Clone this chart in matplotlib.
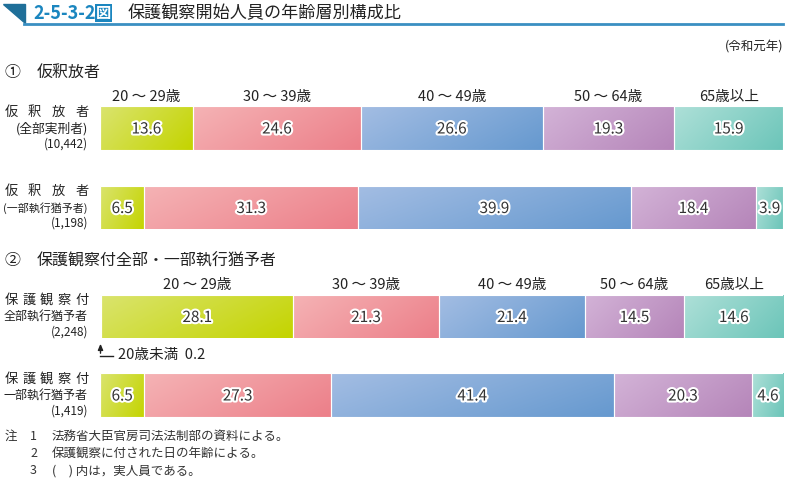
import numpy as np
from matplotlib import pyplot as plt
from matplotlib.patches import Polygon
import matplotlib.patheffects as pe
from matplotlib.colors import to_rgb

plt.rcParams['font.family'] = ['Noto Sans CJK JP', 'DejaVu Sans']

# data
age_groups = ['20歳未満', '20 ～ 29歳', '30 ～ 39歳', '40 ～ 49歳', '50 ～ 64歳', '65歳以上']
row_names = [['仮釈放者', '(全部実刑者)', '(10,442)'],
             ['仮釈放者', '(一部執行猶予者)', '(1,198)'],
             ['保護観察付', '全部執行猶予者', '(2,248)'],
             ['保護観察付', '一部執行猶予者', '(1,419)']]
under20 = [0.0, 0.0, 0.2, 0.0]
age20s = [13.6, 6.5, 28.1, 6.5]
age30s = [24.6, 31.3, 21.3, 27.3]
age40s = [26.6, 39.9, 21.4, 41.4]
age50s = [19.3, 18.4, 14.5, 20.3]
age65 = [15.9, 3.9, 14.6, 4.6]
series = [under20, age20s, age30s, age40s, age50s, age65]

# layout (pixels from top of 789x479 figure)
row_y = [128, 207.5, 316.5, 395]
bar_h = 44
colors = [('#f2f2f2', '#e6e6e6'),
          ('#dae46e', '#c4d400'),
          ('#f5b3b5', '#ec7f89'),
          ('#a3bde3', '#6699cf'),
          ('#d3b3d7', '#b585b9'),
          ('#aee0d8', '#6cc5b9')]

W, H = 789, 479
fig = plt.figure(figsize=(W / 100, H / 100), dpi=100)

# full-figure axes for text in pixel coords
tx = fig.add_axes([0, 0, 1, 1])
tx.set_xlim(0, W)
tx.set_ylim(H, 0)
tx.axis('off')

# bars axes
ax = fig.add_axes([100 / W, 0, 683 / W, 1])
ax.set_xlim(0, 100)
ax.set_ylim(H, 0)
ax.axis('off')

def gradient(c1, c2):
    a = np.array(to_rgb(c1))
    b = np.array(to_rgb(c2))
    yy, xx = np.mgrid[0:1:30j, 0:1:60j]
    t = (xx * 0.7 + yy * 0.3)[..., None]
    return a * (1 - t) + b * t

stroke = [pe.withStroke(linewidth=3, foreground='white')]
left = np.zeros(len(row_y))
for k, vals in enumerate(series):
    vals = np.array(vals)
    bars = ax.barh(row_y, vals, left=left, height=bar_h, color='none',
                   edgecolor='white', linewidth=0.8, zorder=3)
    img = gradient(*colors[k])
    for i, b in enumerate(bars):
        if vals[i] <= 0:
            continue
        x0, y0 = b.get_x(), b.get_y()
        im = ax.imshow(img, extent=(x0, x0 + b.get_width(), y0 + bar_h, y0),
                       aspect='auto', interpolation='bilinear', zorder=2)
        im.set_clip_path(b)
        if k > 0:
            ax.text(x0 + b.get_width() / 2, row_y[i] + 1, f'{vals[i]:.1f}',
                    ha='center', va='center', fontsize=11, color='#333333',
                    path_effects=stroke, zorder=5)
        if k > 0 and i in (0, 2):
            ax.text(x0 + b.get_width() / 2, row_y[i] - bar_h / 2 - 9,
                    age_groups[k], ha='center', va='center', fontsize=10.5,
                    color='#222222')
    left = left + vals
ax.set_xlim(0, 100)
ax.set_ylim(H, 0)

# row labels, first line spread over the label column
renderer = fig.canvas.get_renderer()
for i, (a, b, c) in enumerate(row_names):
    y = row_y[i]
    n = len(a)
    for j, ch in enumerate(a):
        cx = 11 + (82 - 11) * j / (n - 1)
        tx.text(cx, y - 16, ch, ha='center', va='center', fontsize=9.5, color='#222222')
    t = tx.text(88, y + 1, b, ha='right', va='center', fontsize=9.2, color='#222222')
    w = t.get_window_extent(renderer).width
    if w > 84:
        t.set_fontsize(9.2 * 84 / w)
    tx.text(88, y + 16, c, ha='right', va='center', fontsize=8.5, color='#222222')

# under-20 annotation
tx.annotate('', xy=(100.5, 341), xytext=(100.5, 356),
            arrowprops=dict(arrowstyle='-|>,head_width=0.15,head_length=0.35',
                            color='#222222', lw=1))
tx.plot([100.5, 113], [355.5, 355.5], color='#222222', lw=1)
tx.text(118, 355, f'20歳未満  {under20[2]:.1f}', ha='left', va='center',
        fontsize=10.5, color='#222222')

# title
tx.add_patch(Polygon([[3, 4], [25, 4], [25, 23]], closed=True, color='#1f6f99'))
tx.plot([24, 783], [23.5, 23.5], color='#3a8fc2', lw=2)
tx.text(33, 13, '2-5-3-2', ha='left', va='center', fontsize=13, fontweight='bold',
        color='#1b86bf')
tx.text(96, 13, '図', ha='left', va='center', fontsize=11, fontweight='bold',
        color='white', bbox=dict(boxstyle='square,pad=0.08', fc='#1b86bf', ec='none'))
tx.text(128, 13, '保護観察開始人員の年齢層別構成比', ha='left', va='center',
        fontsize=12.3, color='#222222')
tx.text(783, 47, '(令和元年)', ha='right', va='center', fontsize=9, color='#222222')

# section headers
tx.text(5, 72, '①', ha='left', va='center', fontsize=11.5, color='#222222')
tx.text(37, 72, '仮釈放者', ha='left', va='center', fontsize=11.5, color='#222222')
tx.text(5, 261, '②', ha='left', va='center', fontsize=11.5, color='#222222')
tx.text(37, 261, '保護観察付全部・一部執行猶予者', ha='left', va='center', fontsize=11.5,
        color='#222222')

# notes
notes = ['法務省大臣官房司法法制部の資料による。', '保護観察に付された日の年齢による。',
         '(　) 内は，実人員である。']
tx.text(5, 436, '注', ha='left', va='center', fontsize=9, color='#333333')
for j, n in enumerate(notes):
    yy = 436 + j * 17.5
    tx.text(30, yy, str(j + 1), ha='left', va='center', fontsize=9, color='#333333')
    tx.text(52, yy, n, ha='left', va='center', fontsize=9, color='#333333')

fig.savefig('out.png', dpi=100)
